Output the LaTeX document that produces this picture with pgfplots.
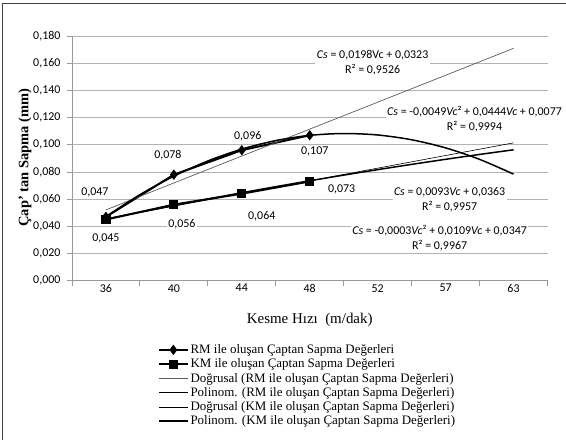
\documentclass[border=0pt]{standalone}
\usepackage{fontspec}
\setmainfont{Liberation Serif}
\newfontfamily\calibri{Carlito}
\usepackage{pgfplots}
\pgfplotsset{compat=1.18}

\begin{document}
\begin{tikzpicture}
\path (-72bp,-159bp) rectangle (494bp,281bp);
\draw[line width=1bp, black!75] (-69bp,-159bp) -- (-69bp,277bp) -- (494bp,277bp);
\begin{axis}[
  at={(0,0)}, anchor=south west,
  scale only axis, width=476bp, height=245bp,
  xmin=0.5, xmax=7.5, ymin=0, ymax=0.18,
  xtick={0.5,1.5,2.5,3.5,4.5,5.5,6.5,7.5}, xticklabels={},
  extra x ticks={1,2,3,4,5,6,7}, extra x tick labels={36,40,44,48,52,57,63},
  extra x tick style={major tick length=0pt},
  ytick={0,0.02,0.04,0.06,0.08,0.1,0.12,0.14,0.16,0.18},
  axis x line*=bottom, axis y line*=left,
  axis line style={gray!80, -, line width=0.8bp},
  tick align=outside, major tick length=5bp,
  tick style={gray!80, line width=0.8bp},
  ymajorgrids, grid style={gray!60, line width=0.7bp},
  yticklabel style={xshift=-3bp, /pgf/number format/.cd, fixed, fixed zerofill, precision=3, use comma, assume math mode=true},
  xticklabel style={/pgf/number format/assume math mode=true},
  ticklabel style={font=\calibri\fontsize{12}{14}\selectfont},
  legend style={at={(0.18,-0.25)}, anchor=north west, draw=none, fill=none,
    font=\rmfamily\fontsize{13}{14}\selectfont, row sep=-0.2bp, inner sep=0.5bp},
  legend cell align=left,
  legend image code/.code={\draw[mark repeat=2,mark phase=2] plot coordinates {(0cm,0cm) (0.5cm,0cm) (1cm,0cm)};},
  clip=false,
]
% data
\addplot[black, line width=2bp, mark=diamond*, mark size=3.6bp, mark options={solid}] coordinates {(1,0.047) (2,0.078) (3,0.096) (4,0.107)};
\addlegendentry{RM ile oluşan Çaptan Sapma Değerleri}
\addplot[black, line width=2bp, mark=square*, mark size=3.6bp, mark options={solid}] coordinates {(1,0.045) (2,0.056) (3,0.064) (4,0.073)};
\addlegendentry{KM ile oluşan Çaptan Sapma Değerleri}
% trendlines
\addplot[gray!70!black, line width=0.7bp, mark=none] coordinates {(1,0.0521) (7,0.1709)};
\addlegendentry{Doğrusal (RM ile oluşan Çaptan Sapma Değerleri)}
\addplot[black, line width=1.5bp, mark=none, smooth] coordinates {
(1,0.0472) (1.5,0.063275) (2,0.0769) (2.5,0.088075) (3,0.0968) (3.5,0.103075) (4,0.1069)
(4.5,0.108275) (5,0.1072) (5.5,0.103675) (6,0.0977) (6.5,0.089275) (7,0.0784)};
\addlegendentry{Polinom. (RM ile oluşan Çaptan Sapma Değerleri)}
\addplot[black, line width=0.6bp, mark=none] coordinates {(1,0.0456) (7,0.1014)};
\addlegendentry{Doğrusal (KM ile oluşan Çaptan Sapma Değerleri)}
\addplot[black, line width=1.5bp, mark=none, smooth] coordinates {
(1,0.0453) (1.5,0.050375) (2,0.0553) (2.5,0.060075) (3,0.0647) (3.5,0.069175) (4,0.0735)
(4.5,0.077675) (5,0.0817) (5.5,0.085575) (6,0.0893) (6.5,0.092875) (7,0.0963)};
\addlegendentry{Polinom. (KM ile oluşan Çaptan Sapma Değerleri)}
% data labels
\begin{scope}[every node/.style={fill=white, inner sep=1.5bp, font=\calibri\fontsize{12}{14}\selectfont}]
\node at (axis cs:0.838,0.0647) {0,047};
\node at (axis cs:1.0,0.0309) {0,045};
\node at (axis cs:1.912,0.0926) {0,078};
\node at (axis cs:3.088,0.1065) {0,096};
\node at (axis cs:4.074,0.0948) {0,107};
\node at (axis cs:2.118,0.0419) {0,056};
\node at (axis cs:3.294,0.0478) {0,064};
\node at (axis cs:4.47,0.0669) {0,073};
\node[align=center, font=\calibri\fontsize{12}{15}\selectfont] at (axis cs:4.926,0.1606) {\textit{Cs} = 0,0198Vc + 0,0323\\R² = 0,9526};
\node[align=center, font=\calibri\fontsize{12}{15}\selectfont] at (axis cs:6.426,0.1187) {\textit{Cs} = -0,0049\textit{Vc}² + 0,0444\textit{Vc} + 0,0077\\R² = 0,9994};
\node[align=center, font=\calibri\fontsize{12}{15}\selectfont] at (axis cs:6.059,0.0595) {\textit{Cs} = 0,0093\textit{Vc} + 0,0363\\R² = 0,9957};
\node[align=center, font=\calibri\fontsize{12}{15}\selectfont] at (axis cs:5.912,0.0316) {\textit{Cs} = -0,0003\textit{Vc}² + 0,0109\textit{Vc} + 0,0347\\R² = 0,9967};
\end{scope}
\end{axis}
\node[font=\rmfamily\fontsize{15}{17}\selectfont] at (238bp,-39bp) {Kesme Hızı\ \ (m/dak)};
\node[font=\rmfamily\bfseries\fontsize{14.5}{17}\selectfont, rotate=90] at (-47bp,123bp) {Çap’ tan Sapma (mm)};
\end{tikzpicture}
\end{document}
